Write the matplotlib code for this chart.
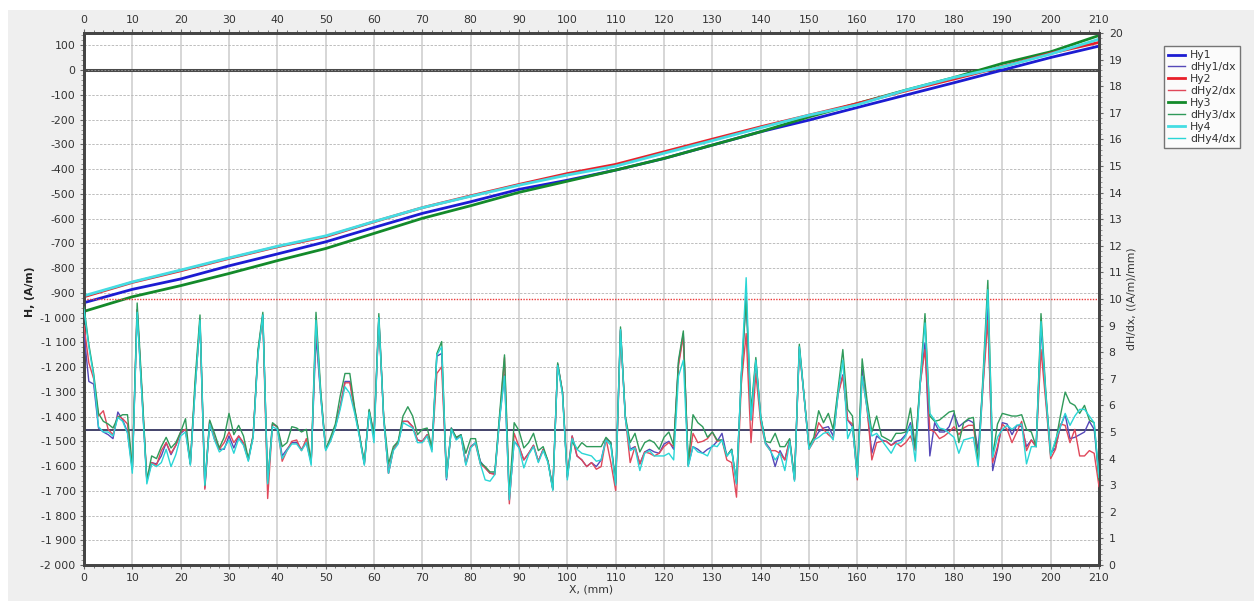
import matplotlib
matplotlib.use("Agg")
import matplotlib.pyplot as plt
import numpy as np
from matplotlib.ticker import MultipleLocator, FuncFormatter
from matplotlib.patches import Rectangle

# ---------------- data ----------------
x_h = [0, 10, 20, 30, 40, 50, 60, 70, 80, 90, 100, 110, 120, 130, 140, 150, 160, 170, 180, 190, 200, 210]
hy1 = [-940, -886, -844, -791, -743, -694, -636, -579, -532, -482, -445, -404, -357, -303, -249, -202, -151, -101, -51, 0, 51, 97]
hy2 = [-916, -858, -811, -761, -714, -673, -613, -556, -508, -462, -418, -381, -330, -279, -229, -182, -135, -84, -36, 14, 68, 112]
hy3 = [-975, -916, -871, -822, -770, -721, -660, -599, -548, -494, -449, -404, -357, -303, -249, -189, -135, -81, -30, 27, 74, 140]
hy4 = [-912, -856, -808, -759, -712, -670, -612, -556, -510, -465, -424, -388, -336, -285, -233, -182, -140, -81, -30, 13, 65, 125]

x_d = list(range(0, 211))
# rows: mm -> (dHy1, dHy2, dHy3, dHy4)
d_rows = [
    (8.7, 9.0, 9.7, 9.6), (6.9, 7.6, 8.3, 8.2), (6.8, 7.0, 7.2, 7.1), (5.15, 5.6, 5.7, 5.2),
    (5.0, 5.8, 5.4, 5.0), (4.9, 5.1, 5.3, 5.0), (4.75, 4.9, 5.15, 4.85), (5.75, 5.6, 5.55, 5.55),
    (5.45, 5.5, 5.65, 5.4), (5.0, 5.3, 5.65, 4.95), (3.6, 3.6, 3.6, 3.45), (9.6, 9.6, 9.85, 9.5),
    (6.4, 6.4, 6.6, 6.3), (3.15, 3.2, 3.2, 3.05), (3.85, 3.85, 4.1, 3.8), (3.8, 3.75, 4.0, 3.7),
    (4.1, 4.3, 4.45, 3.85), (4.6, 4.6, 4.8, 4.35), (4.15, 4.2, 4.4, 3.7), (4.5, 4.5, 4.6, 4.15),
    (4.95, 5.0, 5.0, 4.85), (5.1, 5.1, 5.5, 5.0), (3.8, 3.8, 3.8, 3.75), (6.7, 6.7, 7.0, 6.6),
    (9.2, 9.1, 9.4, 9.2), (2.9, 2.85, 3.0, 3.0), (5.4, 5.4, 5.45, 5.3), (4.75, 4.75, 4.95, 4.7),
    (4.35, 4.35, 4.4, 4.25), (4.35, 4.6, 4.8, 4.4), (4.85, 5.0, 5.7, 4.7), (4.4, 4.6, 4.9, 4.2),
    (4.85, 4.85, 5.25, 4.75), (4.55, 4.6, 4.85, 4.5), (3.95, 3.95, 4.0, 3.9), (4.85, 4.9, 4.85, 4.8),
    (8.0, 8.0, 8.1, 7.9), (9.4, 9.3, 9.5, 9.4), (3.05, 2.5, 3.1, 3.05), (5.3, 5.3, 5.35, 5.2),
    (5.2, 5.2, 5.2, 5.1), (4.1, 3.9, 4.45, 4.0), (4.35, 4.3, 4.6, 4.3), (4.6, 4.65, 5.2, 4.55),
    (4.6, 4.7, 5.15, 4.55), (4.35, 4.3, 5.0, 4.3), (4.6, 4.75, 5.1, 4.6), (3.85, 3.85, 3.85, 3.75),
    (8.6, 9.0, 9.5, 9.2), (6.3, 6.4, 6.5, 6.3), (4.35, 4.35, 4.35, 4.3), (4.7, 4.7, 4.8, 4.65),
    (5.2, 5.2, 5.3, 5.15), (5.95, 5.95, 6.35, 5.85), (6.9, 6.85, 7.2, 6.7), (6.9, 6.85, 7.2, 6.45),
    (5.85, 5.8, 5.9, 5.7), (4.85, 4.85, 4.9, 4.8), (3.8, 3.8, 3.85, 3.75), (5.8, 5.8, 5.85, 5.75),
    (4.85, 4.85, 4.9, 4.6), (9.3, 9.2, 9.45, 9.3), (5.55, 5.55, 5.6, 5.5), (3.45, 3.45, 3.8, 3.45),
    (4.35, 4.35, 4.45, 4.3), (4.6, 4.6, 4.65, 4.55), (5.4, 5.4, 5.6, 5.35), (5.4, 5.4, 5.95, 5.25),
    (5.2, 5.2, 5.6, 5.15), (4.7, 4.7, 4.9, 4.6), (4.65, 4.65, 5.1, 4.6), (4.9, 4.9, 5.15, 4.85),
    (4.35, 4.35, 4.4, 4.25), (7.85, 7.2, 7.95, 7.9), (7.95, 7.45, 8.4, 8.2), (3.2, 3.3, 3.3, 3.25),
    (5.15, 5.1, 5.15, 5.1), (4.75, 4.8, 4.8, 4.7), (4.9, 4.85, 4.9, 4.85), (3.8, 3.8, 4.2, 3.75),
    (4.45, 4.45, 4.75, 4.4), (4.6, 4.55, 4.75, 4.6), (3.9, 3.8, 3.85, 3.8), (3.65, 3.65, 3.7, 3.2),
    (3.45, 3.45, 3.5, 3.15), (3.45, 3.4, 3.5, 3.4), (5.55, 5.5, 5.7, 5.5), (7.15, 7.8, 7.9, 7.1),
    (2.45, 2.3, 2.65, 2.45), (4.65, 4.95, 5.35, 4.65), (4.45, 4.45, 5.05, 4.4), (3.95, 3.95, 4.4, 3.65),
    (4.2, 4.2, 4.6, 4.15), (4.5, 4.5, 4.95, 4.45), (3.9, 3.9, 4.3, 3.85), (4.35, 4.35, 4.45, 4.3),
    (3.9, 3.9, 3.9, 3.85), (2.85, 2.85, 2.85, 2.8), (7.55, 7.55, 7.6, 7.5), (6.5, 6.5, 6.5, 6.4),
    (3.3, 3.3, 3.35, 3.2), (4.85, 4.85, 4.65, 4.75), (4.1, 4.1, 4.35, 4.35), (3.95, 3.95, 4.6, 4.2),
    (3.7, 3.7, 4.45, 4.15), (3.85, 3.85, 4.45, 4.1), (3.7, 3.6, 4.45, 3.9), (3.95, 3.7, 4.45, 3.95),
    (4.75, 4.75, 4.8, 4.7), (4.6, 3.85, 4.6, 4.5), (3.05, 2.8, 3.1, 3.0), (8.85, 8.8, 8.95, 8.85),
    (5.55, 5.55, 5.6, 5.5), (4.35, 3.85, 4.6, 4.3), (4.45, 4.45, 4.95, 4.4), (3.8, 3.8, 4.25, 3.55),
    (4.25, 4.25, 4.6, 4.2), (4.35, 4.2, 4.7, 4.3), (4.25, 4.1, 4.6, 4.1), (4.2, 4.2, 4.35, 4.1),
    (4.55, 4.45, 4.8, 4.1), (4.65, 4.6, 5.0, 4.2), (4.35, 4.45, 4.5, 3.95), (7.6, 7.5, 7.7, 7.1),
    (8.7, 8.6, 8.8, 7.7), (3.75, 3.75, 3.8, 3.7), (4.45, 4.95, 5.65, 4.45), (4.35, 4.6, 5.35, 4.25),
    (4.2, 4.65, 5.2, 4.2), (4.35, 4.75, 4.8, 4.1), (4.45, 5.0, 5.0, 4.5), (4.65, 4.65, 4.7, 4.45),
    (4.95, 4.7, 4.7, 4.7), (4.1, 3.95, 4.1, 4.1), (4.35, 3.85, 4.35, 4.3), (3.05, 2.55, 3.1, 3.05),
    (7.1, 6.8, 7.1, 7.2), (10.1, 8.7, 10.0, 10.8), (5.45, 4.6, 5.8, 5.45), (7.7, 7.2, 7.8, 7.7),
    (5.55, 5.35, 5.6, 5.55), (4.6, 4.55, 4.65, 4.55), (4.35, 4.3, 4.6, 4.3), (3.7, 4.3, 4.95, 3.95),
    (4.3, 4.2, 4.45, 4.2), (3.95, 3.95, 4.45, 3.55), (4.7, 4.7, 4.75, 4.65), (3.2, 3.2, 3.25, 3.15),
    (8.2, 8.1, 8.3, 8.2), (6.3, 6.3, 6.35, 6.3), (4.4, 4.35, 4.45, 4.35), (4.7, 4.65, 4.8, 4.7),
    (5.0, 5.35, 5.8, 4.8), (5.15, 5.1, 5.35, 4.95), (5.2, 4.9, 5.7, 5.0), (4.85, 4.75, 5.1, 4.7),
    (6.45, 6.4, 6.6, 6.4), (7.15, 7.1, 8.1, 7.7), (5.45, 5.45, 5.85, 4.75), (5.2, 5.3, 5.6, 5.2),
    (3.35, 3.2, 3.35, 3.3), (7.35, 7.1, 7.75, 7.1), (5.95, 5.9, 6.2, 5.9), (4.2, 3.95, 5.0, 4.85),
    (4.85, 4.6, 5.6, 4.95), (4.7, 4.65, 4.85, 4.7), (4.65, 4.65, 4.75, 4.45), (4.5, 4.5, 4.65, 4.2),
    (4.65, 4.6, 4.95, 4.55), (4.7, 4.45, 4.95, 4.6), (4.9, 4.6, 5.0, 4.85), (5.35, 4.85, 5.9, 5.25),
    (4.35, 4.3, 4.4, 3.9), (6.8, 6.8, 6.9, 6.8), (8.35, 8.1, 9.45, 9.1), (4.1, 5.1, 5.6, 5.7),
    (5.35, 5.0, 5.4, 5.45), (5.0, 4.75, 5.45, 5.15), (5.0, 4.85, 5.6, 5.1), (5.2, 5.0, 5.75, 4.95),
    (5.7, 5.2, 5.8, 4.8), (5.2, 4.9, 4.6, 4.2), (5.35, 5.15, 5.35, 4.7), (5.45, 5.25, 5.5, 4.75),
    (5.35, 5.25, 5.55, 4.8), (4.3, 3.85, 3.8, 3.7), (6.8, 6.7, 7.1, 6.9), (9.65, 9.2, 10.7, 10.35),
    (3.55, 3.85, 4.1, 4.05), (4.35, 4.45, 5.3, 4.8), (5.35, 5.3, 5.7, 5.1), (5.3, 5.1, 5.65, 5.25),
    (4.9, 4.6, 5.6, 5.1), (5.25, 5.0, 5.6, 5.25), (5.2, 5.4, 5.65, 5.3), (4.45, 4.3, 5.1, 3.8),
    (4.7, 4.7, 5.0, 4.45), (4.45, 4.45, 4.45, 4.45), (8.95, 8.1, 9.45, 9.15), (6.3, 6.1, 6.5, 6.4),
    (4.2, 4.0, 4.15, 4.1), (4.4, 4.35, 4.6, 4.7), (5.2, 5.3, 5.6, 5.2), (5.65, 5.25, 6.5, 5.7),
    (4.75, 4.6, 6.1, 5.25), (4.8, 5.1, 6.0, 5.6), (4.9, 4.1, 5.7, 5.85), (5.0, 4.1, 6.0, 5.85),
    (5.4, 4.3, 5.45, 5.6), (5.1, 4.2, 5.35, 5.35), (3.3, 2.95, 3.2, 3.3),
]
dhy1 = [r[0] for r in d_rows]
dhy2 = [r[1] for r in d_rows]
dhy3 = [r[2] for r in d_rows]
dhy4 = [r[3] for r in d_rows]

mean_level = 5.08
limit_level = 10.0

# ---------------- figure ----------------
W, H = 1254, 601
fig = plt.figure(figsize=(W / 100, H / 100), dpi=100, facecolor="white")
fig.patches.append(Rectangle((8 / W, 0), 1 - 8 / W, 1 - 10 / H, transform=fig.transFigure,
                             facecolor="#efefef", edgecolor="none", zorder=-10))

L, R, T, B = 84, 1099, 33, 565
ax = fig.add_axes([L / W, 1 - B / H, (R - L) / W, (B - T) / H])
ax.set_facecolor("white")
ax2 = ax.twinx()

tick_color = "#333333"
fs = 7.8

ax.set_xlim(0, 210)
ax.set_ylim(-2000, 150)
ax2.set_ylim(0, 20)

# grid
for xv in range(10, 210, 10):
    ax.axvline(xv, color="#cbcbcb", lw=1.1, zorder=0)
for yv in range(-1900, 150, 100):
    ax.axhline(yv, color="#bdbdbd", lw=0.7, ls=(0, (2.5, 1.5)), zorder=0)

ax.axhline(0, color="#4a4a4a", lw=2.2, zorder=1)
ax.axhline(0, color="#9a9a9a", lw=0.6, ls=(0, (2, 2)), zorder=1.1)

# H curves
l1, = ax.plot(x_h, hy1, color="#1c1cd2", lw=2.0, label="Hy1", zorder=3)
l3, = ax.plot(x_h, hy3, color="#138a2a", lw=2.0, label="Hy3", zorder=3)
l2, = ax.plot(x_h, hy2, color="#e8202a", lw=2.0, label="Hy2", zorder=3)
l4, = ax.plot(x_h, hy4, color="#45dde3", lw=2.0, label="Hy4", zorder=3)

# derivative curves
ax2.axhline(limit_level, color="#ec3a3a", lw=1.0, ls=(0, (1, 1)), zorder=1)
ax2.axhline(mean_level, color="#35355f", lw=1.3, zorder=1)
d1, = ax2.plot(x_d, dhy1, color="#5548b8", lw=1.0, label="dHy1/dx", zorder=3)
d2, = ax2.plot(x_d, dhy2, color="#e0485a", lw=1.0, label="dHy2/dx", zorder=3)
d3, = ax2.plot(x_d, dhy3, color="#2f9a5a", lw=1.0, label="dHy3/dx", zorder=3)
d4, = ax2.plot(x_d, dhy4, color="#2ad6d6", lw=1.0, label="dHy4/dx", zorder=3)

# ticks
ax.xaxis.set_major_locator(MultipleLocator(10))
ax.xaxis.set_minor_locator(MultipleLocator(2))
ax.yaxis.set_major_locator(MultipleLocator(100))
ax.yaxis.set_minor_locator(MultipleLocator(20))
ax2.yaxis.set_major_locator(MultipleLocator(1))
ax2.yaxis.set_minor_locator(MultipleLocator(0.2))
ax.yaxis.set_major_formatter(FuncFormatter(lambda v, p: f"{int(round(v)):,}".replace(",", " ")))
ax.xaxis.set_major_formatter(FuncFormatter(lambda v, p: f"{int(round(v))}"))
ax2.yaxis.set_major_formatter(FuncFormatter(lambda v, p: f"{int(round(v))}"))

ax.tick_params(axis="x", which="both", top=True, labeltop=True, bottom=True, labelbottom=True,
               direction="out", colors="#666666", labelcolor=tick_color, labelsize=fs)
ax.tick_params(axis="x", which="major", length=3, pad=3)
ax.tick_params(axis="x", which="minor", length=2)
ax.tick_params(axis="y", which="major", length=3, pad=3, colors="#666666",
               labelcolor=tick_color, labelsize=fs)
ax.tick_params(axis="y", which="minor", length=2, colors="#888888")
ax2.tick_params(axis="y", which="major", length=3, pad=4, colors="#666666",
                labelcolor=tick_color, labelsize=fs)
ax2.tick_params(axis="y", which="minor", length=2, colors="#888888")

for a in (ax, ax2):
    for s in a.spines.values():
        s.set_color("#454545")
        s.set_linewidth(2.0)

# labels
fig.text(591 / W, 1 - 590 / H, "X, (mm)", ha="center", va="center", fontsize=fs, color=tick_color)
fig.text(30 / W, 1 - 292 / H, "H, (A/m)", ha="center", va="center", rotation=90,
         fontsize=fs, color="#222222", fontweight="bold")
fig.text(1132 / W, 1 - 299 / H, "dH/dx, ((A/m)/mm)", ha="center", va="center", rotation=90,
         fontsize=fs, color=tick_color)

# legend
handles = [l1, d1, l2, d2, l3, d3, l4, d4]
leg = fig.legend(handles, [h.get_label() for h in handles], loc="upper left",
                 bbox_to_anchor=(1164 / W, 1 - 46 / H), fontsize=fs, frameon=True,
                 fancybox=False, handlelength=1.5, handletextpad=0.5, labelspacing=0.18,
                 borderpad=0.4, borderaxespad=0)
leg.get_frame().set_edgecolor("#555555")
leg.get_frame().set_linewidth(1.0)
for t in leg.get_texts():
    t.set_color(tick_color)

fig.savefig("out.png", dpi=100, facecolor=fig.get_facecolor())
